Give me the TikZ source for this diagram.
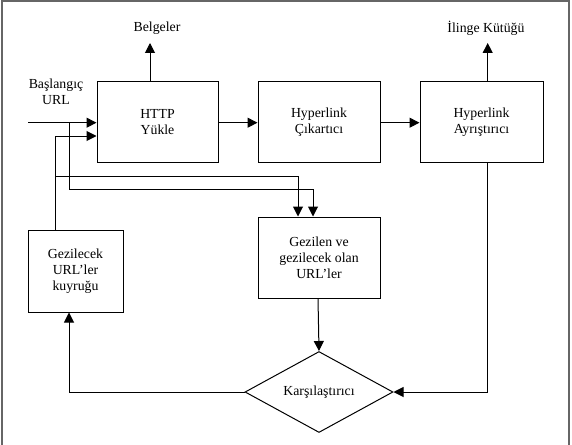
\documentclass[tikz,border=0pt]{standalone}
\usepackage{fontspec}
\setmainfont{Liberation Serif}
\usetikzlibrary{arrows.meta,shapes.geometric}
\begin{document}
\begin{tikzpicture}[x=1pt,y=-1pt,
  every node/.style={font=\fontsize{13.8}{16}\selectfont, align=center},
  box/.style={draw, line width=1pt, inner sep=0pt, minimum height=81pt},
  lbl/.style={inner sep=0pt},
  arr/.style={line width=1pt, -{Triangle[length=10pt,width=10pt]}},
  ln/.style={line width=1pt}]
\useasboundingbox (0,0) rectangle (572,444);
\draw[line width=1.8pt, draw=black!60] (2,1) rectangle (569,447);

\node[box, minimum width=121pt] (http) at (157.5,122.3) {HTTP\\Yükle};
\node[box, minimum width=122pt] (cik) at (319,122.3) {Hyperlink\\Çıkartıcı};
\node[box, minimum width=123pt] (ayr) at (481.5,122.3) {Hyperlink\\Ayrıştırıcı};
\node[box, minimum width=122pt] (gez) at (319,257.5) {Gezilen ve\\gezilecek olan\\URL’ler};
\node[box, minimum width=95pt, minimum height=82pt] (kuy) at (75.5,271) {Gezilecek\\URL’ler\\kuyruğu};
\node[draw, line width=1pt, diamond, aspect=1.83, minimum width=148pt, minimum height=81pt, inner sep=0pt] (kar) at (319,392) {Karşılaştırıcı};

\node[lbl] (belge) at (157,28) {Belgeler};
\node[lbl] (ilinge) at (486,28) {İlinge Kütüğü};
\node[lbl] (basl) at (56,92) {Başlangıç\\URL};

\coordinate (start) at (28,122.7);
\coordinate (j1) at (69,122.7);
\coordinate (belgetip) at (150,43);
\coordinate (ilingetip) at (487.7,43);

% main flow
\draw[arr] (start) -- (http.west |- start);
\draw[arr] (http.east |- start) -- (cik.west |- start);
\draw[arr] (cik.east |- start) -- (ayr.west |- start);
\draw[arr] (http.north -| belgetip) -- (belgetip);
\draw[arr] (ayr.north -| ilingetip) -- (ilingetip);

% queue back to HTTP
\draw[arr] (kuy.north -| 55,0) -- (55,136) -- (http.west |- 0,136);
\draw[arr] (55,176) -- (298,176) -- (gez.north -| 298,0);
\draw[arr] (j1) -- (69,189.5) -- (313,189.5) -- (gez.north -| 313,0);

% to comparator
\draw[arr] (gez.south -| 318,0) -- (kar.north);
\draw[arr] (ayr.south -| 487,0) |- (kar.east);
\draw[arr] (kar.west) -| (kuy.south -| 69,0);
\end{tikzpicture}
\end{document}
